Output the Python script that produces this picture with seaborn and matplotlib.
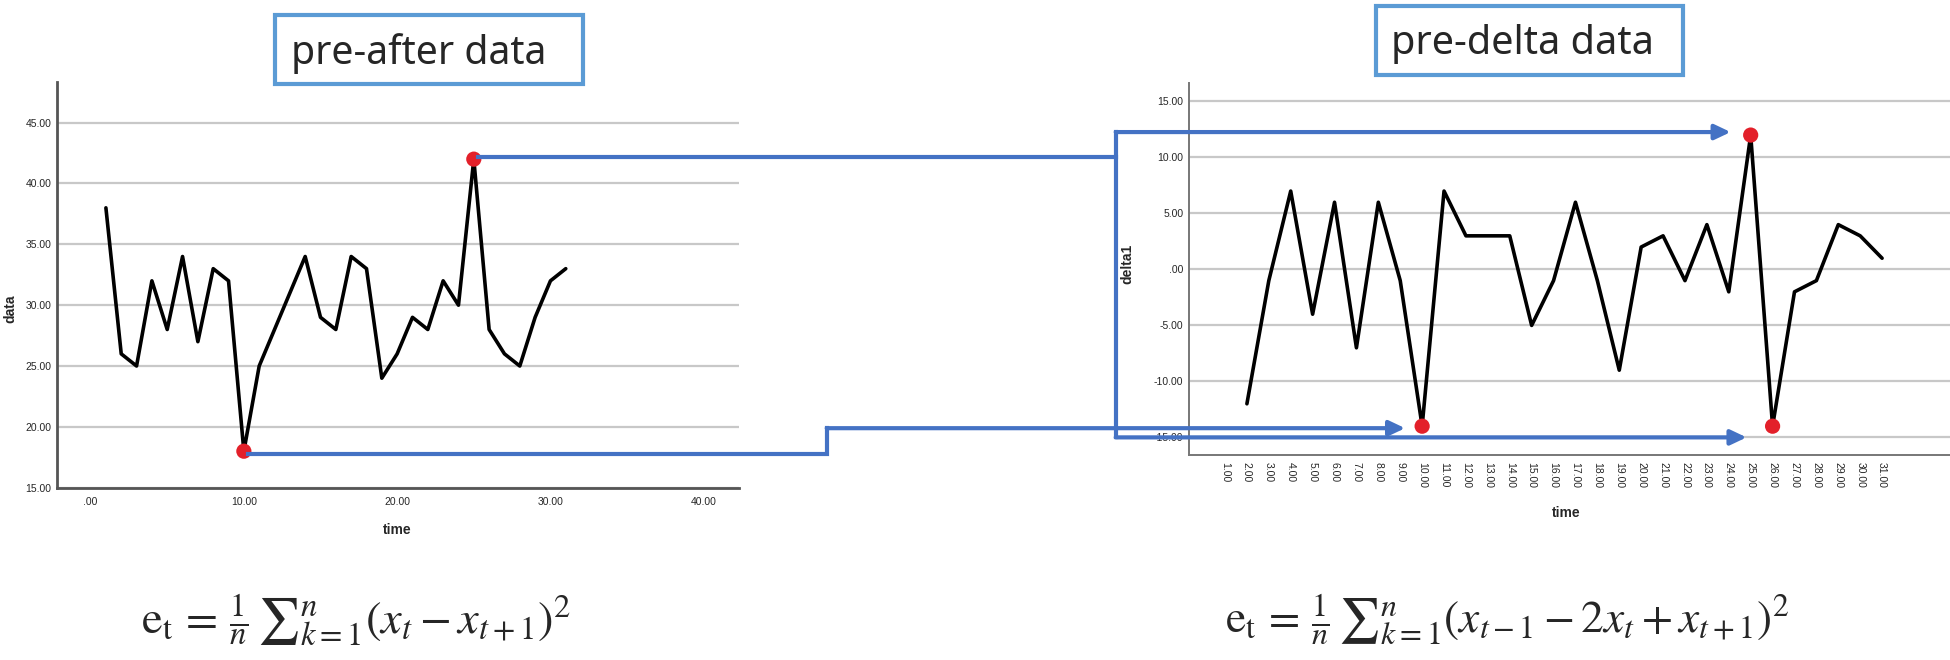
import matplotlib
matplotlib.use("Agg")
import matplotlib.pyplot as plt
from matplotlib.patches import Rectangle, FancyArrowPatch
from matplotlib.lines import Line2D
from matplotlib.transforms import IdentityTransform
import seaborn as sns
import pandas as pd

# ---- data ----
time = list(range(1, 32))
data = [38, 26, 25, 32, 28, 34, 27, 33, 32, 18, 25, 28, 31, 34, 29, 28,
        34, 33, 24, 26, 29, 28, 32, 30, 42, 28, 26, 25, 29, 32, 33]
data_hi_time = [10, 25]
data_hi_val = [18, 42]

delta_time = list(range(2, 32))
delta1 = [-12, -1, 7, -4, 6, -7, 6, -1, -14, 7, 3, 3, 3, -5, -1, 6, -1, -9,
          2, 3, -1, 4, -2, 12, -14, -2, -1, 4, 3, 1]
delta_hi_time = [10, 25, 26]
delta_hi_val = [-14, 12, -14]

left_xticks = [0, 10, 20, 30, 40]
left_yticks = [15, 20, 25, 30, 35, 40, 45]
right_xticks = list(range(1, 32))
right_yticks = [-15, -10, -5, 0, 5, 10, 15]

titles = ["pre-after data", "pre-delta data"]
formulas = [r"$\mathrm{e}_{\mathrm{t}}\,=\,\frac{1}{n}\,{\sum}_{k=1}^{n}(x_t-x_{t+1})^2$",
            r"$\mathrm{e}_{\mathrm{t}}\,=\,\frac{1}{n}\,{\sum}_{k=1}^{n}(x_{t-1}-2x_t+x_{t+1})^2$"]

left_df = pd.DataFrame({"time": time, "data": data})
right_df = pd.DataFrame({"time": delta_time, "delta1": delta1})

sns.set_style("white")
plt.rcParams["font.family"] = ["Liberation Sans", "DejaVu Sans"]
plt.rcParams["mathtext.fontset"] = "stix"

W, H = 1950, 660
fig = plt.figure(figsize=(W / 100, H / 100), dpi=100)


def px_rect(l, t, r, b):
    return [l / W, 1 - b / H, (r - l) / W, (b - t) / H]


def spss_fmt(v):
    s = f"{v:.2f}"
    return s.replace("0.", ".", 1) if abs(v) < 1 else s


BLUE = "#4472C4"
RED = "#E3202A"
GRID = "#C8C8C8"

# ---- left chart ----
ax1 = fig.add_axes(px_rect(57, 82, 739, 487.7))
sns.lineplot(data=left_df, x="time", y="data", ax=ax1, color="black", lw=2.6)
sns.scatterplot(x=data_hi_time, y=data_hi_val, ax=ax1, color=RED, s=120,
                edgecolor="none", zorder=5)
ax1.set_xlim(-2.19, 42.3)
ax1.set_ylim(15, 48.34)
ax1.set_xticks(left_xticks, [spss_fmt(v) for v in left_xticks])
ax1.set_yticks(left_yticks, [spss_fmt(v) for v in left_yticks])
ax1.yaxis.grid(True, color=GRID, lw=1.6)
ax1.xaxis.grid(False)
ax1.set_axisbelow(True)
for s in ["top", "right"]:
    ax1.spines[s].set_visible(False)
for s in ["left", "bottom"]:
    ax1.spines[s].set_color("#555555")
    ax1.spines[s].set_linewidth(2)
ax1.tick_params(length=0, labelsize=7.5, pad=4)
ax1.tick_params(axis="x", pad=7)
ax1.set_xlabel("time", fontsize=10, fontweight="bold", va="center")
ax1.set_ylabel("data", fontsize=10, fontweight="bold", va="center")
ax1.xaxis.set_label_coords(0.4985, -0.104)
ax1.yaxis.set_label_coords(-0.069, 0.44)

# ---- right chart ----
ax2 = fig.add_axes(px_rect(1189, 83, 1950, 455.3))
sns.lineplot(data=right_df, x="time", y="delta1", ax=ax2, color="black", lw=2.6)
sns.scatterplot(x=delta_hi_time, y=delta_hi_val, ax=ax2, color=RED, s=120,
                edgecolor="none", zorder=5)
ax2.set_xlim(-0.644, 34.1)
ax2.set_ylim(-16.6, 16.65)
ax2.set_xticks(right_xticks, [spss_fmt(v) for v in right_xticks], rotation=270)
ax2.set_yticks(right_yticks, [spss_fmt(v) for v in right_yticks])
ax2.yaxis.grid(True, color=GRID, lw=1.6)
ax2.xaxis.grid(False)
ax2.set_axisbelow(True)
for s in ["top", "right"]:
    ax2.spines[s].set_visible(False)
for s in ["left", "bottom"]:
    ax2.spines[s].set_color("#777777")
    ax2.spines[s].set_linewidth(1.4)
ax2.tick_params(length=0, labelsize=7.5, pad=4)
ax2.tick_params(axis="x", pad=5)
ax2.set_xlabel("time", fontsize=10, fontweight="bold", va="center")
ax2.set_ylabel("delta1", fontsize=10, fontweight="bold", va="center")
ax2.xaxis.set_label_coords(0.495, -0.155)
ax2.yaxis.set_label_coords(-0.0815, 0.514)

# ---- blue connectors (display pixels, anchored on the highlighted points) ----
ident = IdentityTransform()


def disp(ax, x, y):
    return ax.transData.transform((x, y))


def path(xs, ys):
    fig.add_artist(Line2D(xs, ys, transform=ident, color=BLUE, lw=3,
                          solid_capstyle="projecting", solid_joinstyle="miter"))


def arrow(x0, y0, x1, y1):
    fig.add_artist(FancyArrowPatch((x0, y0), (x1, y1), transform=ident,
                                   arrowstyle="-|>,head_length=0.95,head_width=0.45",
                                   mutation_scale=10, color=BLUE, lw=3,
                                   shrinkA=0, shrinkB=0))


xc_peak = 1115.7
xc_trough = 826.7

px_, py_ = disp(ax1, data_hi_time[1], data_hi_val[1])
r25x, r25y = disp(ax2, delta_hi_time[1], delta_hi_val[1])
r26x, _ = disp(ax2, delta_hi_time[2], delta_hi_val[2])
_, y_m15 = disp(ax2, 1, right_yticks[0])
y_top = r25y + 3
path([px_ + 4, xc_peak], [py_ + 2, py_ + 2])
path([xc_peak, xc_peak], [y_top, y_m15])
arrow(xc_peak, y_top, r25x - 20, y_top)
arrow(xc_peak, y_m15, r26x - 26, y_m15)

tx, ty = disp(ax1, data_hi_time[0], data_hi_val[0])
r10x, r10y = disp(ax2, delta_hi_time[0], delta_hi_val[0])
y_tr = r10y - 2
path([tx + 4, xc_trough, xc_trough], [ty - 3, ty - 3, y_tr])
arrow(xc_trough, y_tr, r10x - 17, y_tr)

# ---- title boxes ----
boxes = [(275, 15, 583, 84), (1376, 6, 1683, 75)]
title_pos = [(291, 64, 255), (1391, 54, 262)]
fig.canvas.draw()
renderer = fig.canvas.get_renderer()
for (l, t, r, b), (tx0, ty0, tw), txt in zip(boxes, title_pos, titles):
    fig.add_artist(Rectangle((l / W, 1 - b / H), (r - l) / W, (b - t) / H,
                             transform=fig.transFigure, fill=False,
                             edgecolor="#5B9BD5", lw=3))
    t_obj = fig.text(tx0 / W, 1 - ty0 / H, txt, ha="left", va="baseline",
                     fontsize=28, family=["Noto Sans", "DejaVu Sans"])
    w = t_obj.get_window_extent(renderer).width
    t_obj.set_fontsize(28 * tw / w)

# ---- formulas: sized to the reference width, centred like the reference ----
formula_pos = [(356, 632, 430), (1507, 632, 565)]
for (fx, fy, fw), txt in zip(formula_pos, formulas):
    f_obj = fig.text(fx / W, 1 - fy / H, txt, ha="center", va="baseline", fontsize=30)
    w = f_obj.get_window_extent(renderer).width
    f_obj.set_fontsize(30 * fw / w)

fig.savefig("out.png", dpi=100)
